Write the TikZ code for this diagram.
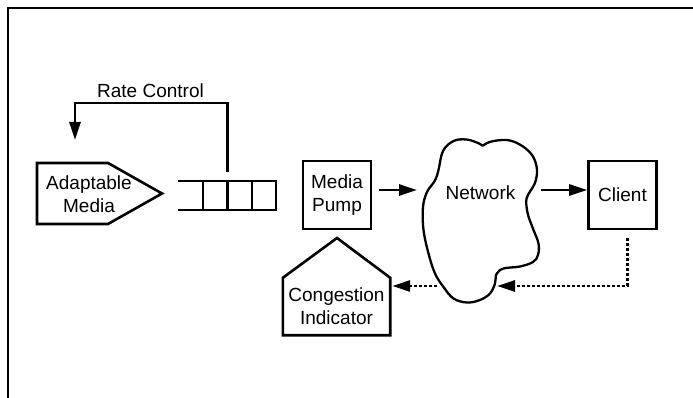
\documentclass[tikz,border=0pt]{standalone}
\usepackage{fontspec}
\setmainfont{Liberation Sans}
\usetikzlibrary{arrows.meta}

\begin{document}
\begin{tikzpicture}[x=1pt,y=-1pt,
  box/.style={draw=black,line width=2.6pt},
  blk/.style={box,minimum width=68pt,minimum height=68pt,align=center},
  flow/.style={line width=2.8pt,-{Triangle[length=18pt,width=11pt]}},
  fb/.style={flow,dash pattern=on 3pt off 2pt}]
\tikzstyle{every node}+=[inner sep=0pt,font=\fontsize{19}{23}\selectfont]
\useasboundingbox (0,0) rectangle (693,398);
\draw [line width=2.6pt] (8,398) -- (8,8) -- (693,8);
\node [align=center] (am) at (89,194) {Adaptable\\Media};
\draw [box] (37,163) -- (108,163) -- (162,193.5) -- (108,224) -- (37,224) -- cycle;
\draw [box] (178,181) -- (276,181) -- (276,210) -- (178,210);
\foreach \x in {203,227.5,252}
  \draw [box] (\x,181) -- (\x,210);
\coordinate (qtop) at (227.5,172);
\coordinate (rcin) at (75,140);
\draw [flow] (qtop) -- ++(0,-69) -| (rcin);
\node (rc) at (150.5,91) {Rate Control};
\node [blk] (pump) at (337,195) {Media\\Pump};
\node [blk] (client) at (622.5,195) {Client};
\node (net) at (480.5,193) {Network};
\draw [box,line width=2.3pt] plot [smooth,tension=0.6] coordinates {(483,146) (487,143) (497,140.5) (510,140.5) (523,146.5) (533,156.5) (537,170) (535,183) (530,191.5) (526.5,198.5) (526.5,206.5) (528.5,216.5) (533.5,230) (538.5,243.5) (538,255) (533,262) (520,266.5) (503.5,268.5) (496.5,274) (495,283.5) (490,293.5) (480,300) (467,302.5) (453.5,298.5) (443.5,287) (435,273.5) (428.5,253.5) (423.5,230) (423,207) (427,192) (435,180.5) (438.5,170) (443,151) (453.5,141) (466.5,139.5) (478,143) (483,146)};
\coordinate (netW) at (417,190);
\coordinate (netE) at (541,190);
\coordinate (netS) at (497,286);
\coordinate (netSW) at (437,286);
\draw [flow] ([xshift=7pt,yshift=5pt]pump.east) -- (netW);
\draw [flow] (netE) -- ([yshift=5pt]client.west);
\node [minimum width=107pt,minimum height=57pt,align=center] (ci) at (336.5,306.5) {Congestion\\Indicator};
\draw [box] (ci.north west) -- (337,238) -- (ci.north east) -- (ci.south east) -- (ci.south west) -- cycle;
\draw [fb] ([xshift=5pt,yshift=-8pt]client.south) |- (netS);
\draw [fb] (netSW) -- ([xshift=2pt]ci.east |- netSW);
\end{tikzpicture}
\end{document}
